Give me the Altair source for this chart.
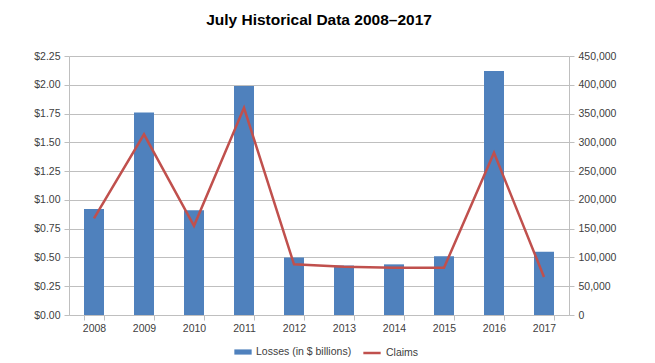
import altair as alt
import pandas as pd

years = ["2008", "2009", "2010", "2011", "2012", "2013", "2014", "2015", "2016", "2017"]
losses = [0.92, 1.76, 0.91, 1.99, 0.50, 0.43, 0.44, 0.51, 2.12, 0.55]
claims = [168000, 314000, 155000, 360000, 88000, 84000, 82000, 82000, 282000, 66000]

df = pd.DataFrame({"Year": years, "Losses": losses, "Claims": claims})

FONT = "Liberation Sans"
LBL = "#404040"
GRID = "#BFBFBF"

x = alt.X("Year:N", title=None, sort=years,
          scale=alt.Scale(paddingInner=0.6, paddingOuter=0.3),
          axis=alt.Axis(labelAngle=0, tickBand="extent", domainColor=GRID, tickColor=GRID,
                        labelColor=LBL, labelFontSize=10.5, labelFont=FONT, labelPadding=3))

bars = alt.Chart(df).mark_bar(color="#4F81BD").encode(
    x=x,
    y=alt.Y("Losses:Q", title=None,
            scale=alt.Scale(domain=[0, 2.25], nice=False),
            axis=alt.Axis(values=[0, 0.25, 0.5, 0.75, 1.0, 1.25, 1.5, 1.75, 2.0, 2.25],
                          format="$.2f", grid=True, gridColor=GRID, domainColor=GRID,
                          tickColor=GRID, labelColor=LBL, labelFontSize=10.5, labelFont=FONT,
                          labelPadding=4)),
    fill=alt.Fill("s:N", scale=alt.Scale(domain=["Losses (in $ billions)"], range=["#4F81BD"]),
                  legend=alt.Legend(title=None, orient="none", legendX=165, legendY=287,
                                    symbolType="M-1,-0.3H1V0.3H-1Z",
                                    symbolSize=300, labelFont=FONT, labelFontSize=10.5,
                                    labelColor=LBL, symbolStrokeWidth=0)),
).transform_calculate(s="'Losses (in $ billions)'")

line = alt.Chart(df).mark_line(strokeWidth=2.5).encode(
    x=x,
    y=alt.Y("Claims:Q", title=None,
            scale=alt.Scale(domain=[0, 450000], nice=False),
            axis=alt.Axis(orient="right", values=list(range(0, 450001, 50000)), format=",d",
                          grid=False, domainColor=GRID, tickColor=GRID, labelColor=LBL,
                          labelFontSize=10.5, labelFont=FONT, labelPadding=4)),
    stroke=alt.Stroke("c:N", scale=alt.Scale(domain=["Claims"], range=["#C0504D"]),
                      legend=alt.Legend(title=None, orient="none", legendX=293, legendY=287,
                                        symbolType="stroke",
                                        symbolStrokeWidth=2.5, symbolSize=300, labelFont=FONT,
                                        labelFontSize=10.5, labelColor=LBL)),
).transform_calculate(c="'Claims'")

chart = alt.layer(bars, line).resolve_scale(y="independent", fill="independent", stroke="independent").properties(
    width=500, height=259,
    title=alt.Title("July Historical Data 2008–2017", font=FONT, fontSize=15.5, fontWeight="bold",
                    color="#000000", offset=23),
    padding={"left": 25, "top": 4, "right": 10, "bottom": 5},
).configure_view(stroke=None)

chart.save("out.html", embed_options={"renderer": "svg", "actions": False})
